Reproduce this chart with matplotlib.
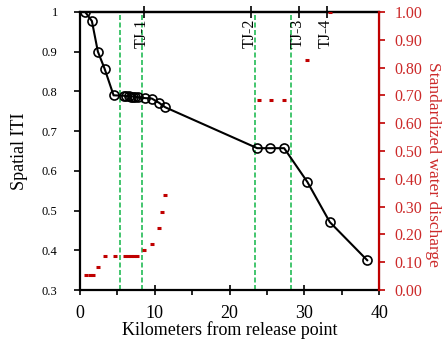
import matplotlib
matplotlib.use("Agg")
import matplotlib.pyplot as plt
import matplotlib.transforms as mtransforms

plt.rcParams['font.family'] = ['Liberation Serif', 'DejaVu Serif']

# spatial ITI along the river
iti_km = [0.7, 1.6, 2.4, 3.3, 4.5, 5.9, 6.2, 6.5, 6.8, 7.1, 7.4, 7.8,
          8.7, 9.6, 10.6, 11.4, 23.7, 25.4, 27.3, 30.4, 33.4, 38.4]
iti = [1.0, 0.977, 0.90, 0.857, 0.79, 0.789, 0.788, 0.788, 0.787, 0.787, 0.786, 0.785,
       0.783, 0.782, 0.771, 0.76, 0.657, 0.657, 0.657, 0.572, 0.471, 0.375]

# standardized water discharge
q_km = [0.8, 1.3, 1.8, 2.4, 3.3, 4.7, 6.0, 6.4, 6.8, 7.2, 7.6,
        8.6, 9.7, 10.6, 11.0, 11.4, 23.9, 25.5, 27.3, 30.4, 33.4]
q = [0.053, 0.053, 0.055, 0.082, 0.122, 0.122, 0.122, 0.122, 0.122, 0.122, 0.124,
     0.145, 0.167, 0.224, 0.282, 0.342, 0.683, 0.683, 0.683, 0.827, 1.0]

# green dashed boundaries and tributary junctions
bounds = [5.35, 8.25, 23.4, 28.2]
tj_km = [8.5, 22.9, 29.3, 33.0]
tj_names = ['TJ-1', 'TJ-2', 'TJ-3', 'TJ-4']

red = '#c00000'
red_txt = '#cc2a2a'
green = '#22bb55'

fig = plt.figure(figsize=(4.44, 3.4), dpi=100)
ax = fig.add_axes([0.180, 0.147, 0.674, 0.818])
ax2 = ax.twinx()

for b in bounds:
    ax.axvline(b, color=green, ls='--', lw=1.2, dashes=(3, 1.5), zorder=1)

ax.plot(iti_km, iti, color='black', lw=1.5, marker='o', ms=6.5, mfc='none',
        mec='black', mew=1.2, zorder=3)
ax2.plot(q_km, q, ls='none', marker='_', ms=3.5, mew=2.2, color=red, zorder=3)

ax.set_xlim(0, 40)
ax.set_ylim(0.3, 1.0)
ax2.set_ylim(0, 1.0)
ax.set_xticks([0, 10, 20, 30, 40])
ax.set_xticks([5, 15, 25, 35], minor=True)
ax.set_yticks([0.3, 0.4, 0.5, 0.6, 0.7, 0.8, 0.9, 1.0])
ax.set_yticklabels(['0.3', '0.4', '0.5', '0.6', '0.7', '0.8', '0.9', '1'])
ax2.set_yticks([i / 10 for i in range(11)])
ax2.set_yticklabels(['%.2f' % (i / 10) for i in range(11)])

ax.tick_params(axis='x', which='major', direction='inout', length=7, width=1.2,
               labelsize=13, pad=7)
ax.tick_params(axis='x', which='minor', direction='out', length=3.5, width=1.2)
ax.tick_params(axis='y', direction='out', length=4, width=1.2, labelsize=9, pad=12)
ax2.tick_params(axis='y', direction='out', length=4, width=1.2, labelsize=11.5,
                colors=red, labelcolor=red_txt, pad=7)

for side in ['left', 'bottom', 'top']:
    ax.spines[side].set_linewidth(1.6)
ax2.spines['right'].set_color(red)
ax2.spines['right'].set_linewidth(1.6)
for side in ['left', 'bottom', 'top']:
    ax2.spines[side].set_visible(False)

# tributary junctions on the top axis
top = ax.secondary_xaxis('top')
top.set_xticks(tj_km)
top.set_xticklabels([])
top.tick_params(direction='inout', length=9, width=1.2)
top.spines['top'].set_linewidth(1.6)
trans = mtransforms.blended_transform_factory(ax.transData, ax.transAxes)
for k, name in zip(tj_km, tj_names):
    ax.text(k - 0.2, 0.975, name, rotation=90, ha='center', va='top', fontsize=11.5,
            transform=trans)

ax.set_xlabel('Kilometers from release point', fontsize=13, labelpad=0)
ax.set_ylabel('Spatial ITI', fontsize=13)
ax.yaxis.set_label_coords(-0.175, 0.5)
ax2.set_ylabel('Standardized water discharge', fontsize=12.5, color=red_txt,
               rotation=270)
ax2.yaxis.set_label_coords(1.205, 0.45)

fig.savefig('out.png', dpi=100)
